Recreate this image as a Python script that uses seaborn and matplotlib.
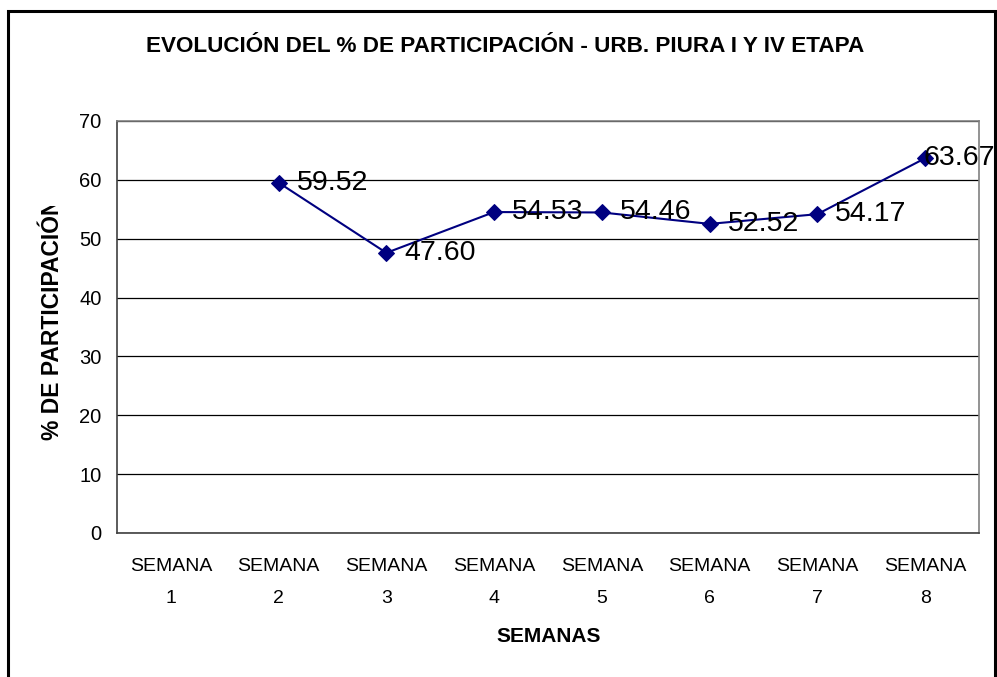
import numpy as np
import pandas as pd
import matplotlib
matplotlib.use("Agg")
import matplotlib.pyplot as plt
import seaborn as sns
from matplotlib.patches import Rectangle
from matplotlib.transforms import Bbox
from matplotlib.ticker import FixedLocator, NullFormatter

# ---- data ----
categories = ["SEMANA\n1", "SEMANA\n2", "SEMANA\n3", "SEMANA\n4",
              "SEMANA\n5", "SEMANA\n6", "SEMANA\n7", "SEMANA\n8"]
participation = [np.nan, 59.52, 47.60, 54.53, 54.46, 52.52, 54.17, 63.67]
y_ticks = [0, 10, 20, 30, 40, 50, 60, 70]

title = "EVOLUCIÓN DEL % DE PARTICIPACIÓN - URB. PIURA I Y IV ETAPA"
x_label = "SEMANAS"
y_label = "% DE PARTICIPACIÓN"

sns.set_style("white")
plt.rcParams["font.family"] = ["Liberation Sans", "DejaVu Sans"]
plt.rcParams["text.color"] = "black"
plt.rcParams["xtick.color"] = "black"
plt.rcParams["ytick.color"] = "black"

W, H = 997, 677
fig = plt.figure(figsize=(W / 100, H / 100), dpi=100)
fig.patch.set_facecolor("white")

# outer chart frame
frame = Rectangle((8 / W, -0.02), (995 - 8) / W, 1.02 - 11 / H,
                  transform=fig.transFigure, fill=False, edgecolor="black",
                  linewidth=2.2, clip_on=False)
fig.patches.append(frame)

left, right, top, bottom = 117, 979, 121, 533
ax = fig.add_axes([left / W, (H - bottom) / H, (right - left) / W, (bottom - top) / H])

df = pd.DataFrame({"pos": np.arange(len(categories)), "val": participation})
sns.lineplot(data=df, x="pos", y="val", ax=ax, color="#000080", linewidth=1.5,
             marker="D", markersize=8, markeredgecolor="#000080",
             markerfacecolor="#000080")

ax.set_xlim(-0.5, len(categories) - 0.5)
ax.set_ylim(0, 70)
ax.set_yticks(y_ticks)
ax.set_yticklabels([str(t) for t in y_ticks], fontsize=14.5)
ax.yaxis.grid(True, color="black", linewidth=0.9)
ax.xaxis.grid(False)
ax.set_axisbelow(True)

ax.set_xticks(np.arange(len(categories)))
ax.set_xticklabels(categories, fontsize=14, linespacing=2.15)
ax.xaxis.set_minor_locator(FixedLocator(np.arange(len(categories) + 1) - 0.5))
ax.xaxis.set_minor_formatter(NullFormatter())
ax.tick_params(axis="x", which="major", length=0, pad=18)
ax.tick_params(axis="x", which="minor", length=5, width=1, color="#404040", direction="out")
ax.tick_params(axis="y", which="major", length=5, width=1, color="#404040", direction="out", pad=6)

for s in ["left", "bottom"]:
    ax.spines[s].set_color("#404040")
    ax.spines[s].set_linewidth(1.2)
for s in ["top", "right"]:
    ax.spines[s].set_color("#808080")
    ax.spines[s].set_linewidth(1.2)

ax.set_xlabel("")
ax.set_ylabel("")

# data labels
n = len(participation)
for i, v in enumerate(participation):
    if np.isnan(v):
        continue
    off = 18 if i < n - 1 else -2
    ax.annotate(f"{v:.2f}", xy=(i, v), xytext=(off, 0), textcoords="offset pixels",
                ha="left", va="center", fontsize=20.5, color="black",
                annotation_clip=False)

fig.text(505 / W, 1 - 46 / H, title, ha="center", va="center",
         fontsize=16.2, fontweight="bold")
fig.text(549 / W, 1 - 637 / H, x_label, ha="center", va="center",
         fontsize=15, fontweight="bold")

yl = fig.text(52 / W, 1 - 440 / H, y_label, rotation=90, rotation_mode="anchor",
              ha="left", va="center", fontsize=16.5, fontweight="bold")
yl.set_clip_box(Bbox.from_extents(0, 0, 200, H - 206))
yl.set_clip_on(True)

fig.savefig("out.png", dpi=100)
